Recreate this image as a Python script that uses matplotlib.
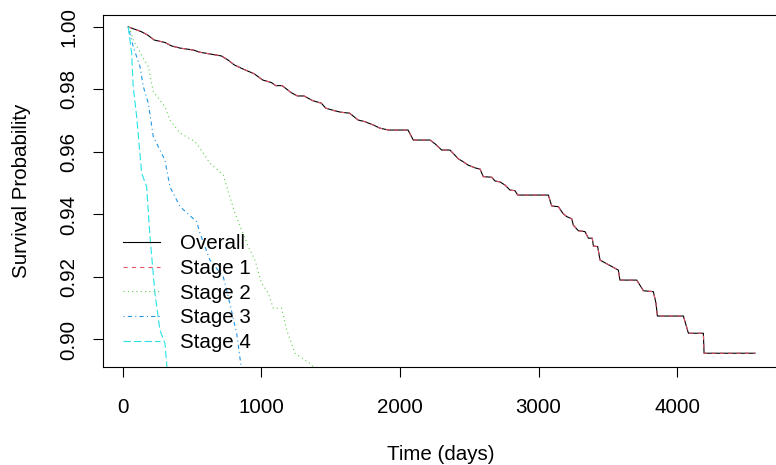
import matplotlib
matplotlib.use("Agg")
import matplotlib.pyplot as plt

plt.rcParams['font.family'] = ['Liberation Sans', 'DejaVu Sans']
plt.rcParams['lines.scale_dashes'] = False

# Kaplan-Meier style curves
overall_t = [38, 131, 178, 226, 304, 351, 414, 508, 554, 633, 711, 758, 805, 868, 947,
             1009, 1071, 1103, 1150, 1213, 1260, 1307, 1370, 1432, 1464, 1526, 1573, 1636,
             1698, 1745, 1808, 1855, 1918, 2058, 2096, 2217, 2253, 2301, 2361, 2421, 2455,
             2491, 2542, 2578, 2601, 2662, 2686, 2722, 2758, 2794, 2830, 2850, 3071, 3095,
             3143, 3175, 3204, 3240, 3251, 3287, 3336, 3360, 3388, 3396, 3427, 3444, 3576,
             3588, 3709, 3757, 3829, 3848, 3858, 4046, 4082, 4190, 4195, 4563]
overall_s = [1.0, 0.9985, 0.9974, 0.9958, 0.9950, 0.9939, 0.9932, 0.9926, 0.9919, 0.9913,
             0.9907, 0.9894, 0.9878, 0.9865, 0.9850, 0.9830, 0.9822, 0.9812, 0.9812, 0.9790,
             0.9779, 0.9779, 0.9764, 0.9756, 0.9740, 0.9732, 0.9727, 0.9724, 0.9702, 0.9697,
             0.9686, 0.9676, 0.9670, 0.9670, 0.9638, 0.9638, 0.9626, 0.9606, 0.9606, 0.9578,
             0.9569, 0.9558, 0.9549, 0.9545, 0.9521, 0.9519, 0.9507, 0.9504, 0.9494, 0.9478,
             0.9476, 0.9462, 0.9462, 0.9427, 0.9425, 0.9404, 0.9393, 0.9386, 0.9366, 0.9348,
             0.9345, 0.9324, 0.9324, 0.9299, 0.9297, 0.9254, 0.9222, 0.9190, 0.9190, 0.9156,
             0.9153, 0.9116, 0.9075, 0.9075, 0.9020, 0.9020, 0.8956, 0.8956]

# stage 1 lies on top of the overall curve
stage1_t = overall_t
stage1_s = overall_s

stage2_t = [45, 74, 147, 183, 219, 303, 339, 412, 520, 556, 628, 724, 749, 809, 857, 905,
            953, 1001, 1049, 1085, 1146, 1182, 1242, 1350, 1400]
stage2_s = [1.0, 0.9958, 0.9900, 0.9873, 0.9793, 0.9745, 0.9702, 0.9660, 0.9633, 0.9612,
            0.9564, 0.9526, 0.9489, 0.9404, 0.9350, 0.9297, 0.9254, 0.9180, 0.9148, 0.9100,
            0.9100, 0.9030, 0.8956, 0.8924, 0.8900]

stage3_t = [38, 74, 123, 147, 183, 219, 303, 339, 412, 532, 556, 628, 724, 760, 821, 857]
stage3_s = [1.0, 0.9937, 0.9873, 0.9809, 0.9756, 0.9649, 0.9574, 0.9489, 0.9425, 0.9377,
            0.9340, 0.9254, 0.9201, 0.9137, 0.9020, 0.8900]

stage4_t = [38, 63, 74, 99, 135, 171, 195, 231, 267, 303, 320]
stage4_s = [1.0, 0.9916, 0.9809, 0.9713, 0.9532, 0.9489, 0.9329, 0.9148, 0.9030, 0.8988, 0.8900]

labels = ["Overall", "Stage 1", "Stage 2", "Stage 3", "Stage 4"]
x_ticks = [0, 1000, 2000, 3000, 4000]
y_ticks = [0.90, 0.92, 0.94, 0.96, 0.98, 1.00]

fig = plt.figure(figsize=(7.76, 4.65), dpi=100)
ax = fig.add_axes([103/776, 1-367/465, 676/776, 352/465])

lw = 0.8
ax.plot(overall_t, overall_s, color='black', lw=lw, label=labels[0])
ax.plot(stage1_t, stage1_s, color='#DF536B', lw=lw, dashes=(3, 3), label=labels[1])
ax.plot(stage2_t, stage2_s, color='#61D04F', lw=lw, dashes=(0.8, 2.3), label=labels[2])
ax.plot(stage3_t, stage3_s, color='#2297E6', lw=lw, dashes=(0.8, 2.3, 3, 2.3), label=labels[3])
ax.plot(stage4_t, stage4_s, color='#28E2E5', lw=lw, dashes=(5.3, 2.3), label=labels[4])

ax.set_xlim(-144, 4736)
ax.set_ylim(0.8912, 1.0038)
ax.set_xticks(x_ticks)
ax.set_xticklabels([str(v) for v in x_ticks])
ax.set_yticks(y_ticks)
ax.set_yticklabels(["%.2f" % v for v in y_ticks], rotation=90, va='center')
ax.tick_params(axis='both', length=7, width=0.8, labelsize=14.8, direction='out')
ax.tick_params(axis='x', pad=15.5)
ax.tick_params(axis='y', pad=11)
for sp in ax.spines.values():
    sp.set_linewidth(0.8)

ax.set_xlabel("Time (days)", fontsize=14.8, labelpad=20)
ax.set_ylabel("Survival Probability", fontsize=14.8, labelpad=20)

ax.legend(loc='upper left', bbox_to_anchor=(123/776, 1-234/465), bbox_transform=fig.transFigure,
          frameon=False, fontsize=14.8, handlelength=1.8, handletextpad=0.95,
          labelspacing=0.28, borderpad=0, borderaxespad=0)

fig.savefig("out.png", dpi=100)
